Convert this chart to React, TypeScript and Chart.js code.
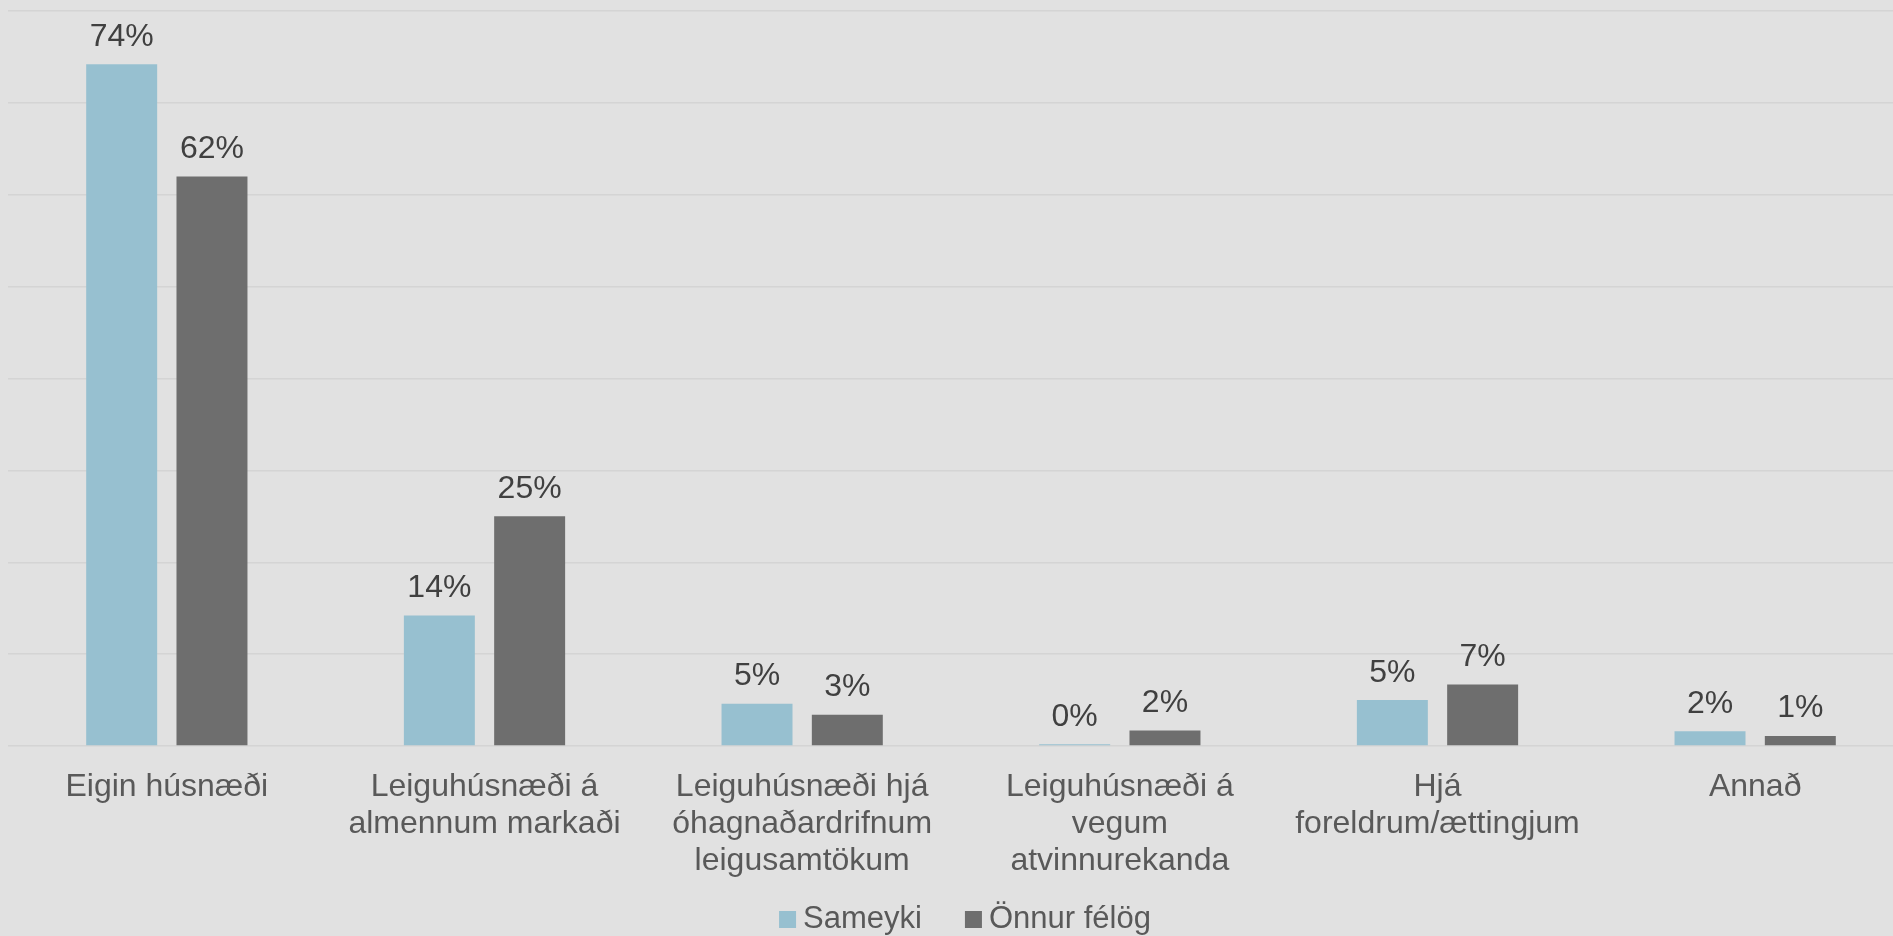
import React, { useEffect, useRef } from "react";
import { Chart, registerables } from "chart.js";

Chart.register(...registerables);

const categories: string[][] = [
  ["Eigin húsnæði"],
  ["Leiguhúsnæði á", "almennum markaði"],
  ["Leiguhúsnæði hjá", "óhagnaðardrifnum", "leigusamtökum"],
  ["Leiguhúsnæði á", "vegum", "atvinnurekanda"],
  ["Hjá", "foreldrum/ættingjum"],
  ["Annað"],
];
const seriesNames = ["Sameyki", "Önnur félög"];
const sameyki = [74.2, 14.2, 4.6, 0.2, 5.0, 1.6];
const onnur = [62.0, 25.0, 3.4, 1.7, 6.7, 1.1];
const seriesColors = ["#97c0d0", "#6e6e6e"];

const FONT = "'Liberation Sans', Arial, sans-serif";
const W = 1930;
const H = 936;

const dataLabelPlugin = {
  id: "dataLabels",
  afterDatasetsDraw(chart: any) {
    const ctx = chart.ctx;
    ctx.save();
    ctx.font = `32px ${FONT}`;
    ctx.fillStyle = "#404040";
    ctx.textAlign = "center";
    ctx.textBaseline = "alphabetic";
    chart.data.datasets.forEach((ds: any, i: number) => {
      const meta = chart.getDatasetMeta(i);
      meta.data.forEach((el: any, j: number) => {
        const v = ds.data[j] as number;
        ctx.fillText(`${Math.round(v)}%`, el.x, el.y - 18.5);
      });
    });
    ctx.restore();
  },
};

const legendPlugin = {
  id: "customLegend",
  afterDraw(chart: any) {
    const ctx = chart.ctx;
    ctx.save();
    ctx.font = `31px ${FONT}`;
    ctx.textBaseline = "alphabetic";
    ctx.textAlign = "left";
    const box = 17;
    const gapText = 7;
    const gapItem = 43;
    const items = chart.data.datasets.map((ds: any) => ({
      label: ds.label as string,
      color: ds.backgroundColor as string,
      w: ctx.measureText(ds.label).width,
    }));
    const total = items.reduce(
      (s: number, it: any, i: number) => s + box + gapText + it.w + (i > 0 ? gapItem : 0),
      0
    );
    let x = chart.width / 2 - total / 2;
    const baseline = 928;
    items.forEach((it: any) => {
      ctx.fillStyle = it.color;
      ctx.fillRect(x, baseline - box, box, box);
      x += box + gapText;
      ctx.fillStyle = "#595959";
      ctx.fillText(it.label, x, baseline);
      x += it.w + gapItem;
    });
    ctx.restore();
  },
};

export default function App() {
  const ref = useRef<HTMLCanvasElement | null>(null);
  useEffect(() => {
    if (!ref.current) return;
    const chart = new Chart(ref.current, {
      type: "bar",
      data: {
        labels: categories,
        datasets: [
          {
            label: seriesNames[0],
            data: sameyki,
            backgroundColor: seriesColors[0],
            categoryPercentage: 0.5685,
            barPercentage: 0.786,
          },
          {
            label: seriesNames[1],
            data: onnur,
            backgroundColor: seriesColors[1],
            categoryPercentage: 0.5685,
            barPercentage: 0.786,
          },
        ],
      },
      options: {
        responsive: false,
        animation: false,
        layout: { padding: { left: 8, right: 16, top: 11, bottom: 0 } },
        plugins: {
          legend: { display: false },
          tooltip: { enabled: false },
        },
        scales: {
          x: {
            grid: { display: false },
            border: { display: false },
            ticks: {
              color: "#595959",
              font: { family: FONT, size: 32, lineHeight: "37px" },
              padding: 14.5,
              maxRotation: 0,
              minRotation: 0,
              autoSkip: false,
            },
            afterFit: (s: any) => {
              s.height = 190;
            },
          },
          y: {
            min: 0,
            max: 80,
            ticks: { display: false, stepSize: 10 },
            grid: { color: "#d4d4d4", lineWidth: 1.5, drawTicks: false },
            border: { display: false },
          },
        },
      },
      plugins: [dataLabelPlugin, legendPlugin],
    });
    return () => chart.destroy();
  }, []);
  return (
    <div
      style={{
        position: "fixed",
        left: 0,
        top: 0,
        width: 1893,
        height: 936,
        overflow: "hidden",
        background: "#e1e1e1",
      }}
    >
      <canvas ref={ref} width={W} height={H} style={{ width: W, height: H, display: "block" }} />
    </div>
  );
}
